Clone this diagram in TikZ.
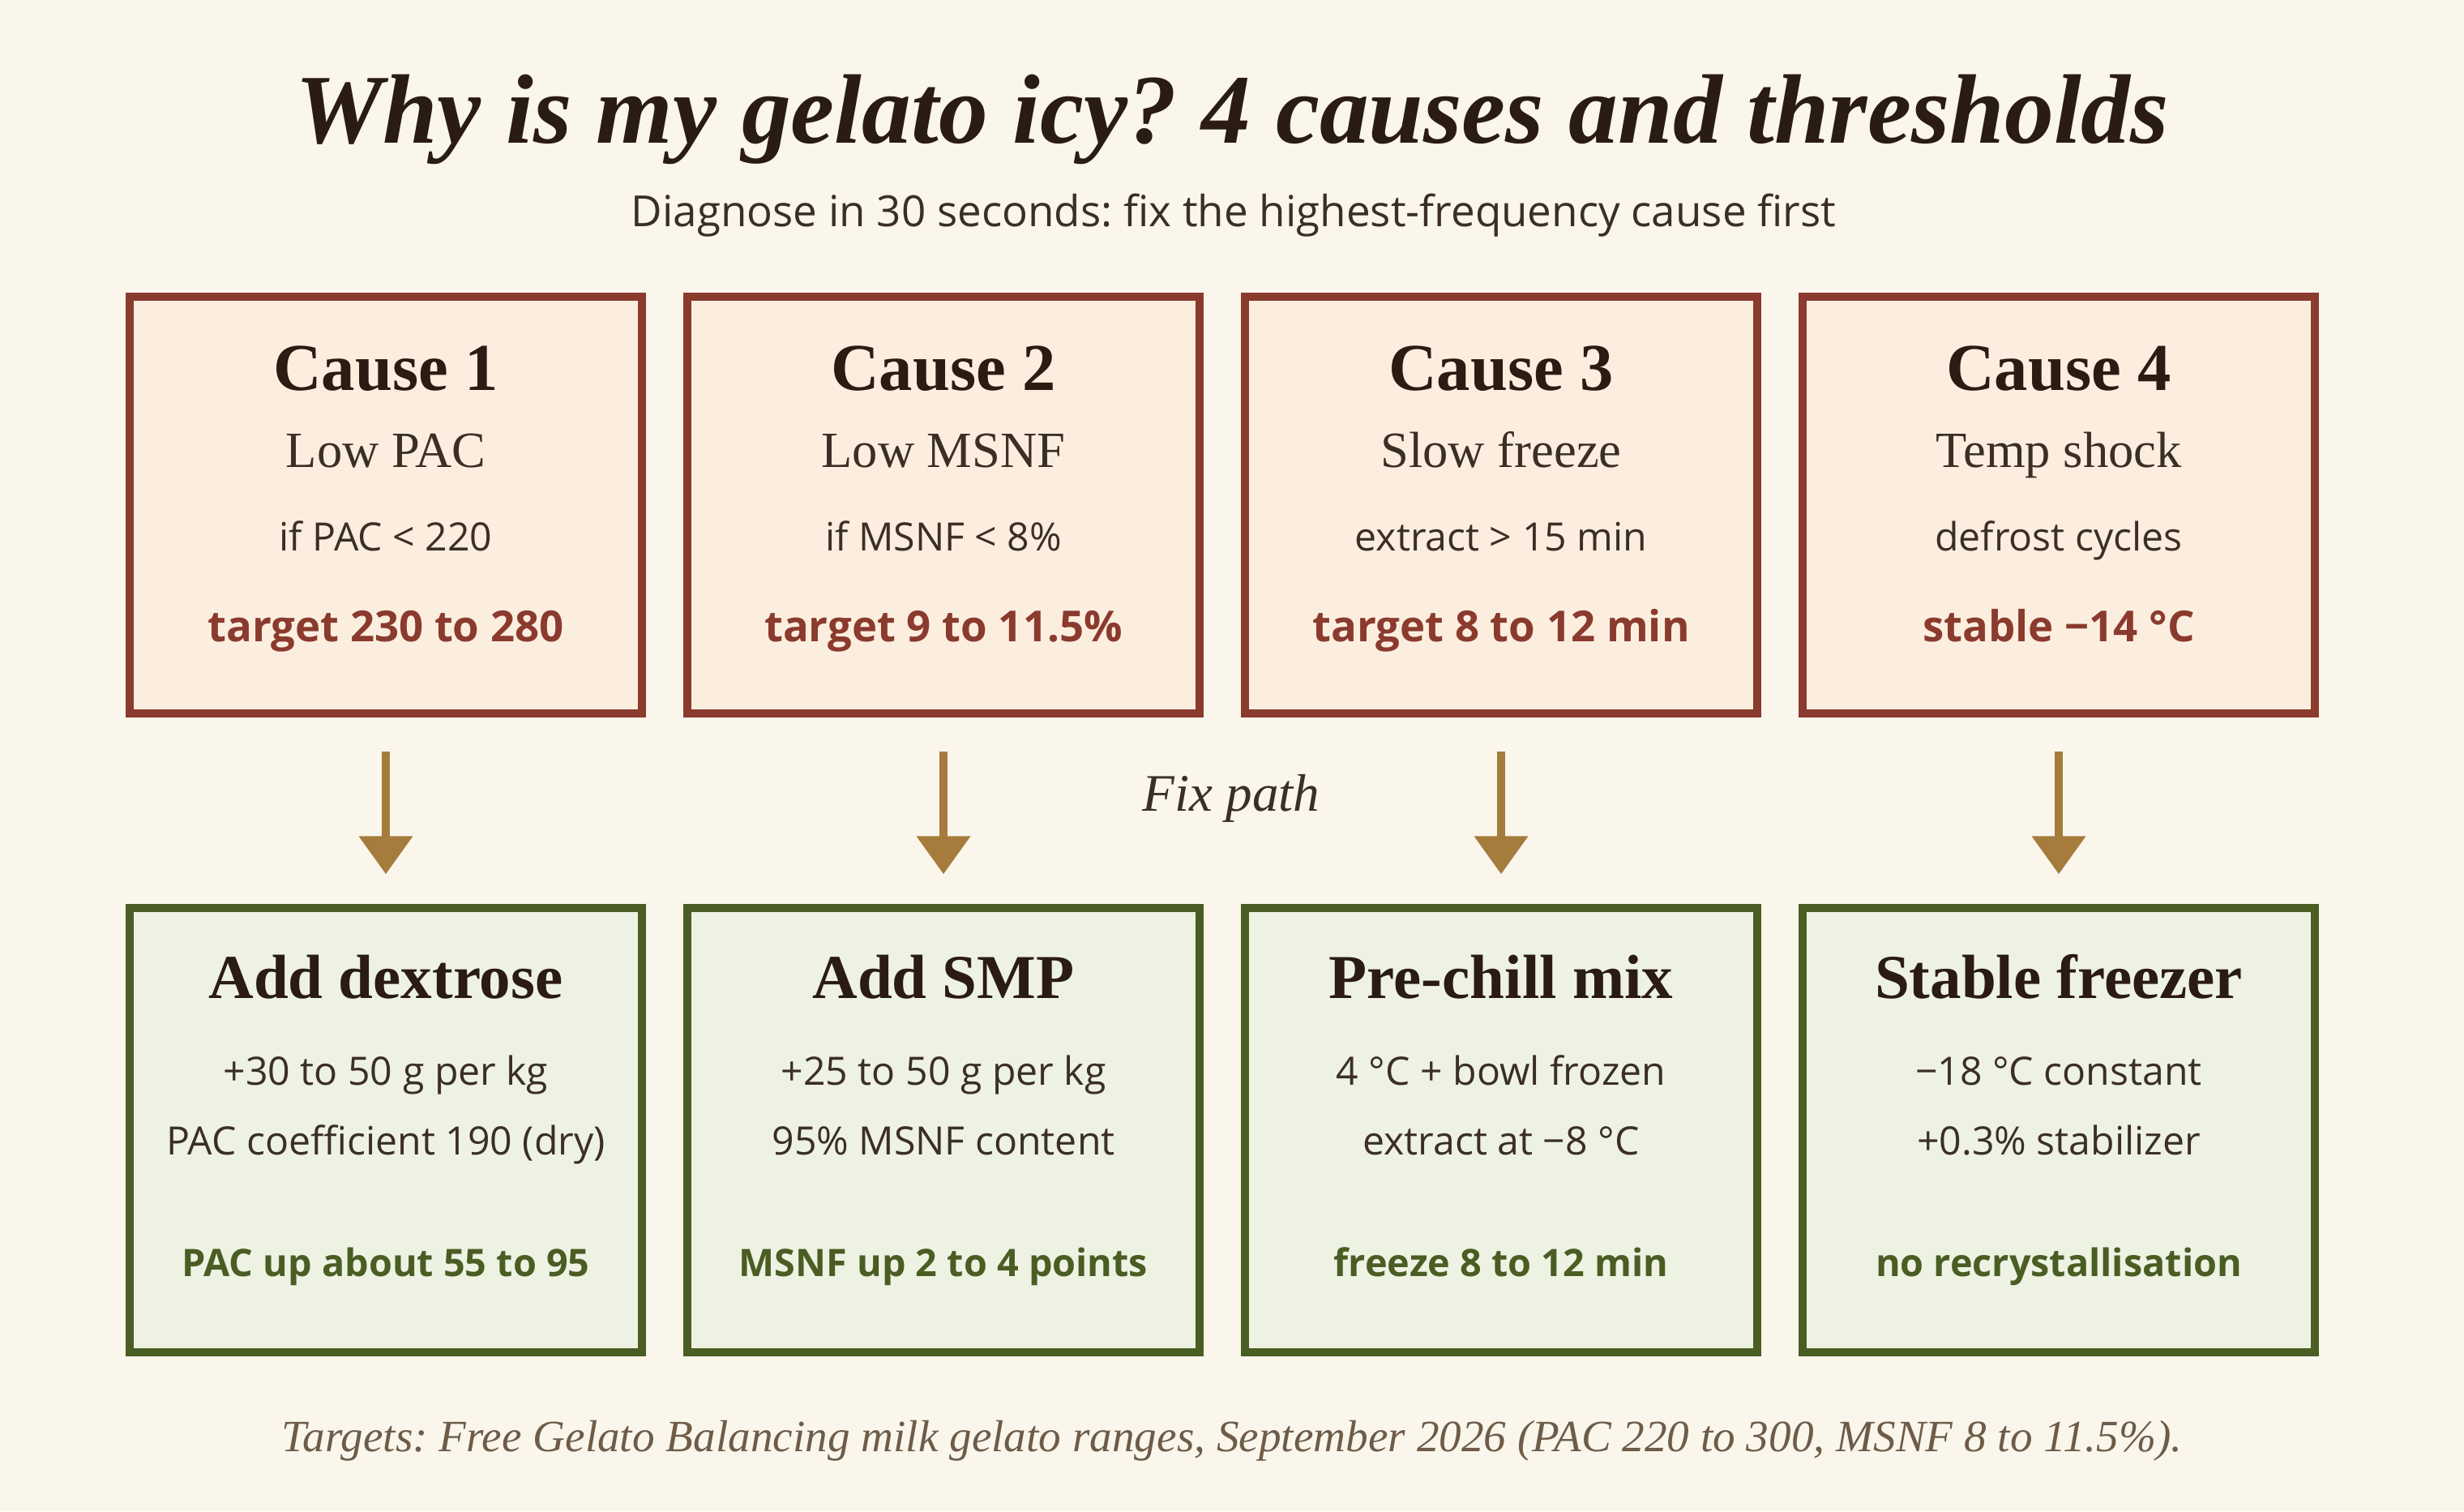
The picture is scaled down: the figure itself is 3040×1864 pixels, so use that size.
\documentclass[tikz,border=0pt]{standalone}
\usepackage{fontspec}
\setmainfont{Liberation Serif}
\setsansfont{Open Sans}
\usetikzlibrary{arrows.meta, positioning}
\frenchspacing

\definecolor{paper}{HTML}{FAF6EC}
\definecolor{ink}{HTML}{2A1C12}
\definecolor{bodyink}{HTML}{3B2F25}
\definecolor{noteink}{HTML}{6E5C48}
\definecolor{causeline}{HTML}{8B3A2E}
\definecolor{causefill}{HTML}{FBEEDF}
\definecolor{fixline}{HTML}{4A5D23}
\definecolor{fixfill}{HTML}{EEF2E3}
\definecolor{gold}{HTML}{A57C3C}

\begin{document}
\begin{tikzpicture}[
    x=0.01cm, y=-0.01cm,
    causebox/.style={rectangle, draw=causeline, line width=2.85pt, fill=causefill, minimum width=6.32cm, minimum height=5.13cm},
    fixbox/.style={rectangle, draw=fixline, line width=2.85pt, fill=fixfill, minimum width=6.32cm, minimum height=5.47cm},
    title/.style={anchor=base, text=ink, font=\fontsize{34.6}{40}\selectfont\bfseries\itshape},
    subtitle/.style={anchor=base, text=bodyink, font=\sffamily\fontsize{15.05}{18}\selectfont},
    causehead/.style={anchor=base, text=ink, font=\fontsize{23.5}{28}\selectfont\bfseries},
    fixhead/.style={anchor=base, text=ink, font=\fontsize{21.9}{26}\selectfont\bfseries},
    causename/.style={anchor=base, text=bodyink, font=\fontsize{17.8}{21}\selectfont},
    detail/.style={anchor=base, text=bodyink, font=\sffamily\fontsize{13.7}{17}\selectfont},
    target/.style={anchor=base, text=causeline, font=\sffamily\fontsize{15}{18}\selectfont\bfseries},
    gain/.style={anchor=base, text=fixline, font=\sffamily\fontsize{13.3}{16}\selectfont\bfseries},
    note/.style={anchor=base, text=noteink, font=\fontsize{15.7}{19}\selectfont\itshape},
    fixarrow/.style={draw=gold, line width=3.1pt, -{Triangle[width=0.64cm, length=0.47cm]}, shorten <=0.42cm, shorten >=0.37cm}
]

% page
\fill[paper] (0,0) rectangle (3040,1864);
\useasboundingbox (0,0) rectangle (3040,1864);

% Title
\node[title] (heading) at (1520,177) {Why is my gelato icy? 4 causes and thresholds};
\node[subtitle] (subheading) at (1522,280) {Diagnose in 30 seconds: fix the highest-frequency cause first};

% Causes
\node[causebox] (cause1) at (476,623) {};
\node[causebox] (cause2) at (1164,623) {};
\node[causebox] (cause3) at (1852,623) {};
\node[causebox] (cause4) at (2540,623) {};

\node[causehead] (c1head) at (476,481) {Cause 1};
\node[causename] (c1name) at (476,576) {Low PAC};
\node[detail] (c1rule) at (476,679) {if PAC < 220};
\node[target] (c1target) at (476,791) {target 230 to 280};

\node[causehead] (c2head) at (1164,481) {Cause 2};
\node[causename] (c2name) at (1164,576) {Low MSNF};
\node[detail] (c2rule) at (1164,679) {if MSNF < 8\%};
\node[target] (c2target) at (1164,791) {target 9 to 11.5\%};

\node[causehead] (c3head) at (1852,481) {Cause 3};
\node[causename] (c3name) at (1852,576) {Slow freeze};
\node[detail] (c3rule) at (1852,679) {extract > 15 min};
\node[target] (c3target) at (1852,791) {target 8 to 12 min};

\node[causehead] (c4head) at (2540,481) {Cause 4};
\node[causename] (c4name) at (2540,576) {Temp shock};
\node[detail] (c4rule) at (2540,679) {defrost cycles};
\node[target] (c4target) at (2540,791) {stable −14 °C};

% Fixes
\node[fixbox] (fix1) at (476,1394) {};
\node[fixbox] (fix2) at (1164,1394) {};
\node[fixbox] (fix3) at (1852,1394) {};
\node[fixbox] (fix4) at (2540,1394) {};

\node[fixhead] (f1head) at (476,1231) {Add dextrose};
\node[detail] (f1dose) at (476,1338) {+30 to 50 g per kg};
\node[detail] (f1info) at (476,1424) {PAC coefficient 190 (dry)};
\node[gain] (f1gain) at (476,1574) {PAC up about 55 to 95};

\node[fixhead] (f2head) at (1164,1231) {Add SMP};
\node[detail] (f2dose) at (1164,1338) {+25 to 50 g per kg};
\node[detail] (f2info) at (1164,1424) {95\% MSNF content};
\node[gain] (f2gain) at (1164,1574) {MSNF up 2 to 4 points};

\node[fixhead] (f3head) at (1852,1231) {Pre-chill mix};
\node[detail] (f3dose) at (1852,1338) {4 °C + bowl frozen};
\node[detail] (f3info) at (1852,1424) {extract at −8 °C};
\node[gain] (f3gain) at (1852,1574) {freeze 8 to 12 min};

\node[fixhead] (f4head) at (2540,1231) {Stable freezer};
\node[detail] (f4dose) at (2540,1338) {−18 °C constant};
\node[detail] (f4info) at (2540,1424) {+0.3\% stabilizer};
\node[gain] (f4gain) at (2540,1574) {no recrystallisation};

% Fix path arrows
\draw[fixarrow] (cause1) -- (fix1);
\draw[fixarrow] (cause2) -- (fix2);
\draw[fixarrow] (cause3) -- (fix3);
\draw[fixarrow] (cause4) -- (fix4);
\node[causename, font=\fontsize{18.5}{22}\selectfont\itshape] (fixpath) at (1519,1000) {Fix path};

% Source
\node[note] (source) at (1520,1790) {Targets: Free Gelato Balancing milk gelato ranges, September 2026 (PAC 220 to 300, MSNF 8 to 11.5\%).};

\end{tikzpicture}
\end{document}
